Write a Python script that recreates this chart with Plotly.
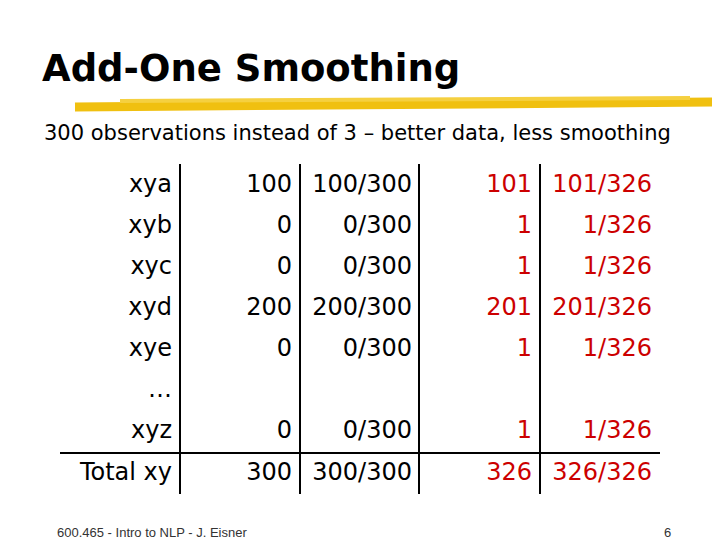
import plotly.graph_objects as go

labels = ["xya", "xyb", "xyc", "xyd", "xye", "…", "xyz", "Total xy"]
counts = ["100", "0", "0", "200", "0", "", "0", "300"]
probs = ["100/300", "0/300", "0/300", "200/300", "0/300", "", "0/300", "300/300"]
add_counts = ["101", "1", "1", "201", "1", "", "1", "326"]
add_probs = ["101/326", "1/326", "1/326", "201/326", "1/326", "", "1/326", "326/326"]
row_y = [178, 219, 260, 301, 342, 383, 424, 466]

red = "#CC0000"
font = "DejaVu Sans"

fig = go.Figure()
columns = [(labels, 164, "black"), (counts, 284, "black"), (probs, 404, "black"),
           (add_counts, 524, red), (add_probs, 644, red)]
for texts, x, color in columns:
    fig.add_trace(go.Scatter(
        x=[x] * len(texts), y=row_y, text=texts, mode="text",
        textposition="middle left",
        textfont=dict(family=font, size=24, color=color),
        hoverinfo="skip", showlegend=False))

shapes = [
    # yellow brush underline under the title
    dict(type="line", x0=67, y0=99, x1=712, y1=94,
         line=dict(color="#F0C010", width=9)),
    dict(type="line", x0=112, y0=93, x1=682, y1=90,
         line=dict(color="#F5D040", width=4)),
    # horizontal rule above the total
    dict(type="line", x0=52, y0=445, x1=652, y1=445,
         line=dict(color="black", width=2)),
]
for x in [172, 292, 411, 532]:
    shapes.append(dict(type="line", x0=x, y0=156, x1=x, y1=486,
                       line=dict(color="black", width=2)))

annotations = [
    dict(x=32, y=60, text="<b>Add-One Smoothing</b>", xanchor="left",
         showarrow=False, font=dict(family=font, size=37, color="black")),
    dict(x=34, y=125, text="300 observations instead of 3 – better data, less smoothing",
         xanchor="left", showarrow=False, font=dict(family=font, size=21, color="black")),
    dict(x=47, y=524, text="600.465 - Intro to NLP - J. Eisner", xanchor="left",
         showarrow=False, font=dict(family="Liberation Sans", size=13, color="#333333")),
    dict(x=665, y=524, text="6", xanchor="right",
         showarrow=False, font=dict(family="Liberation Sans", size=13, color="#333333")),
]

fig.update_layout(
    width=720, height=540, margin=dict(l=0, r=0, t=0, b=0),
    paper_bgcolor="white", plot_bgcolor="white",
    xaxis=dict(range=[0, 720], visible=False, fixedrange=True),
    yaxis=dict(range=[540, 0], visible=False, fixedrange=True),
    shapes=shapes, annotations=annotations,
)

fig.write_html("out.html")
